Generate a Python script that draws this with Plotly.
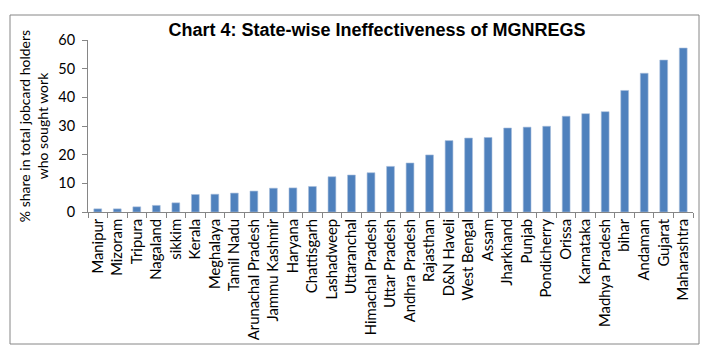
import plotly.graph_objects as go

states = ["Manipur", "Mizoram", "Tripura", "Nagaland", "sikkim", "Kerala", "Meghalaya",
          "Tamil Nadu", "Arunachal Pradesh", "Jammu Kashmir", "Haryana", "Chattisgarh",
          "Lashadweep", "Uttaranchal", "Himachal Pradesh", "Uttar Pradesh", "Andhra Pradesh",
          "Rajasthan", "D&N Haveli", "West Bengal", "Assam", "Jharkhand", "Punjab",
          "Pondicherry", "Orissa", "Karnataka", "Madhya Pradesh", "bihar", "Andaman",
          "Gujarat", "Maharashtra"]
share = [1.1, 1.1, 1.8, 2.3, 3.2, 6.1, 6.2, 6.6, 7.3, 8.3, 8.4, 8.9,
         12.3, 12.9, 13.7, 15.9, 17.1, 19.9, 24.9, 25.8, 26.0, 29.3, 29.6,
         29.9, 33.4, 34.3, 35.0, 42.4, 48.4, 53.0, 57.2]

title_text = "Chart 4: State-wise Ineffectiveness of MGNREGS"
y_title = "% share in total jobcard holders<br>who sought work"

font_family = "Lato, Carlito, Calibri, sans-serif"

# page body has an 8px margin; plot area in figure coords: x 80..685, y 32..204
L, R, T, B = 80, 28, 32, 156
PW, PH = 713 - L - R, 360 - T - B

fig = go.Figure(go.Bar(
    x=states, y=share,
    marker=dict(color="#4F81BD", line=dict(color="#A7BEDC", width=0.6)),
))

fig.update_layout(
    width=713, height=360,
    margin=dict(l=L, r=R, t=T, b=B),
    paper_bgcolor="white", plot_bgcolor="white",
    bargap=0.6,
    showlegend=False,
    font=dict(family=font_family, size=14, color="black"),
    title=dict(text="<b>" + title_text + "</b>", x=369 / 713, xanchor="center",
               y=1 - 22 / 360, yanchor="middle",
               font=dict(family="Liberation Sans, Arial, sans-serif", size=18, color="black")),
    xaxis=dict(
        tickangle=-90, showline=True, linecolor="#868686", linewidth=1,
        ticks="outside", tickson="boundaries", ticklen=5, tickcolor="#868686",
        showgrid=False, tickfont=dict(size=14.8),
    ),
    yaxis=dict(
        range=[0, 60], dtick=10, showline=True, linecolor="#868686", linewidth=1,
        ticks="outside", ticklen=5, tickcolor="#868686", showgrid=False, zeroline=False,
        tickfont=dict(size=14.5), ticklabelstandoff=4,
        title=dict(text=y_title, font=dict(size=14), standoff=6),
    ),
    shapes=[dict(type="rect", xref="paper", yref="paper",
                 x0=(2 - L) / PW, x1=(691 - L) / PW,
                 y0=(T + PH - 336) / PH, y1=(T + PH - 7) / PH,
                 line=dict(color="#868686", width=1), fillcolor="rgba(0,0,0,0)", layer="below")],
)

fig.write_html("out.html")
